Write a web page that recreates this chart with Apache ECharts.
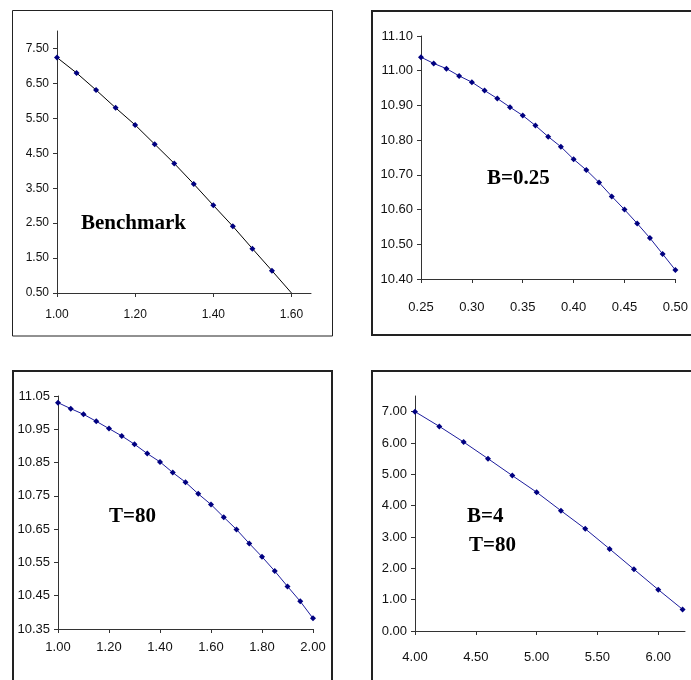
<!DOCTYPE html>
<html>
<head>
<meta charset="utf-8">
<script src="https://cdn.jsdelivr.net/npm/echarts@6/dist/echarts.min.js"></script>
<style>
  html, body { margin: 0; padding: 0; background: #fff; overflow: hidden; }
  #main { width: 691px; height: 680px; }
</style>
</head>
<body>
<div id="main"></div>
<script>
// Benchmark panel
const benchX = [1.00, 1.05, 1.10, 1.15, 1.20, 1.25, 1.30, 1.35, 1.40, 1.45, 1.50, 1.55, 1.60]
const benchY = [7.24, 6.80, 6.31, 5.80, 5.31, 4.76, 4.21, 3.62, 3.01, 2.41, 1.77, 1.14, 0.50]
const benchXTicks = [1.0, 1.2, 1.4, 1.6]
const benchYTicks = [0.5, 1.5, 2.5, 3.5, 4.5, 5.5, 6.5, 7.5]

// B=0.25 panel
const bX = [0.25, 0.2625, 0.275, 0.2875, 0.30, 0.3125, 0.325, 0.3375, 0.35, 0.3625, 0.375,
  0.3875, 0.40, 0.4125, 0.425, 0.4375, 0.45, 0.4625, 0.475, 0.4875, 0.50]
const bY = [11.039, 11.021, 11.006, 10.985, 10.967, 10.943, 10.920, 10.895, 10.871, 10.842, 10.810,
  10.781, 10.745, 10.714, 10.678, 10.638, 10.600, 10.560, 10.518, 10.472, 10.426]
const bXTicks = [0.25, 0.30, 0.35, 0.40, 0.45, 0.50]
const bYTicks = [10.4, 10.5, 10.6, 10.7, 10.8, 10.9, 11.0, 11.1]

// T=80 panel
const tX = [1.00, 1.05, 1.10, 1.15, 1.20, 1.25, 1.30, 1.35, 1.40, 1.45, 1.50,
  1.55, 1.60, 1.65, 1.70, 1.75, 1.80, 1.85, 1.90, 1.95, 2.00]
const tY = [11.030, 11.012, 10.995, 10.974, 10.952, 10.930, 10.905, 10.877, 10.852, 10.820, 10.791,
  10.756, 10.724, 10.686, 10.649, 10.607, 10.567, 10.524, 10.478, 10.433, 10.382]
const tXTicks = [1.0, 1.2, 1.4, 1.6, 1.8, 2.0]
const tYTicks = [10.35, 10.45, 10.55, 10.65, 10.75, 10.85, 10.95, 11.05]

// B=4 T=80 panel
const btX = [4.0, 4.2, 4.4, 4.6, 4.8, 5.0, 5.2, 5.4, 5.6, 5.8, 6.0, 6.2]
const btY = [7.00, 6.53, 6.03, 5.50, 4.96, 4.43, 3.84, 3.26, 2.62, 1.97, 1.32, 0.69]
const btXTicks = [4.0, 4.5, 5.0, 5.5, 6.0]
const btYTicks = [0, 1, 2, 3, 4, 5, 6, 7]

const font = '"Liberation Sans", Arial, sans-serif'
const fmt = v => v.toFixed(2)

function xAxis (idx, min, max, ticks, size, margin) {
  return {
    type: 'value', gridIndex: idx, min: min, max: max,
    splitLine: { show: false },
    axisLine: { lineStyle: { color: '#333', width: 1 } },
    axisTick: { length: 4, lineStyle: { color: '#333' }, customValues: ticks },
    axisLabel: { customValues: ticks, formatter: fmt, color: '#111', fontFamily: font, fontSize: size, margin: margin }
  }
}
function yAxis (idx, min, max, ticks, size) {
  return {
    type: 'value', gridIndex: idx, min: min, max: max,
    splitLine: { show: false },
    axisLine: { show: true, lineStyle: { color: '#333', width: 1 } },
    axisTick: { show: true, length: 4, lineStyle: { color: '#333' }, customValues: ticks },
    axisLabel: { customValues: ticks, formatter: fmt, color: '#111', fontFamily: font, fontSize: size, margin: 8 }
  }
}
function zip (xs, ys) {
  return xs.map((x, i) => [x, ys[i]])
}
function series (idx, data, lineColor) {
  return {
    type: 'line', xAxisIndex: idx, yAxisIndex: idx, data: data,
    symbol: 'diamond', symbolSize: 6, showAllSymbol: true,
    itemStyle: { color: '#000080' },
    lineStyle: { color: lineColor, width: 1 },
    animation: false
  }
}

const benchData = zip(benchX, benchY)
// the last point sits on the axis corner, no marker drawn there
benchData[benchData.length - 1] = { value: benchData[benchData.length - 1], symbolSize: 0 }

const labelFont = 'bold 21px "Liberation Serif", "Times New Roman", serif'
function label (x, y, text) {
  return { type: 'text', left: x, top: y, z: 10, style: { text: text, font: labelFont, fill: '#000' } }
}
function box (x, y, w, h, lw) {
  return { type: 'rect', shape: { x: x, y: y, width: w, height: h }, z: 0,
    style: { fill: null, stroke: '#222', lineWidth: lw } }
}

const option = {
  animation: false,
  grid: [
    { left: 57, top: 31, width: 254, height: 262 },
    { left: 421, top: 36, width: 260, height: 243 },
    { left: 58, top: 396, width: 255, height: 233 },
    { left: 415, top: 396, width: 270, height: 235 }
  ],
  xAxis: [
    xAxis(0, 1.0, 1.65, benchXTicks, 12, 16),
    xAxis(1, 0.25, 0.50, bXTicks, 13, 22),
    xAxis(2, 1.0, 2.0, tXTicks, 13, 12),
    xAxis(3, 4.0, 6.22, btXTicks, 13, 20)
  ],
  yAxis: [
    yAxis(0, 0.5, 8.0, benchYTicks, 12),
    yAxis(1, 10.4, 11.1, bYTicks, 13),
    yAxis(2, 10.35, 11.05, tYTicks, 13),
    yAxis(3, 0, 7.5, btYTicks, 13)
  ],
  series: [
    series(0, benchData, '#000'),
    series(1, zip(bX, bY), '#1c1c9c'),
    series(2, zip(tX, tY), '#1c1c9c'),
    series(3, zip(btX, btY), '#1c1c9c')
  ],
  graphic: [
    box(12.5, 10.5, 320, 325.5, 1),
    box(372, 11, 340, 324, 2),
    box(13, 371, 319, 340, 2),
    box(372, 371, 340, 340, 2),
    label(81, 213, 'Benchmark'),
    label(487, 168, 'B=0.25'),
    label(109, 506, 'T=80'),
    label(467, 506, 'B=4'),
    label(469, 535, 'T=80')
  ]
}

const chart = echarts.init(document.getElementById('main'), null, { renderer: 'canvas' })
chart.setOption(option)
</script>
</body>
</html>
